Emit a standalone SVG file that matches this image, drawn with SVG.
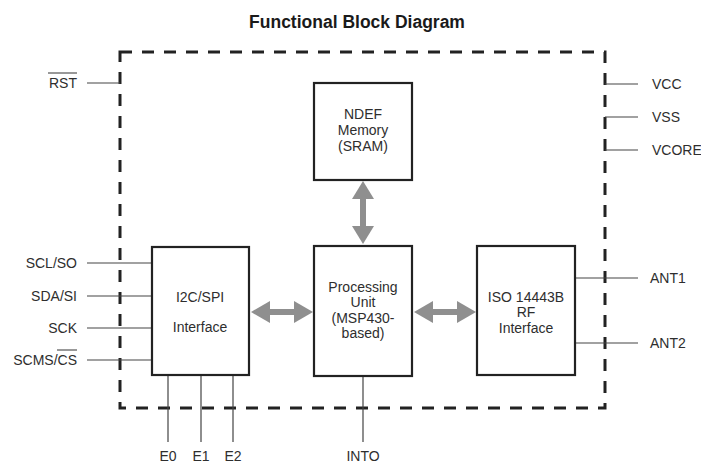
<svg xmlns="http://www.w3.org/2000/svg" width="701" height="464" viewBox="0 0 701 464">
  <style>
    .t { font-family: "Liberation Sans", Arial, sans-serif; font-size: 14px; fill: #2e2e2e; }
    .title { font-family: "Liberation Sans", Arial, sans-serif; font-size: 17.5px; font-weight: bold; fill: #1a1a1a; }
    .box { fill: #fff; stroke: #222; stroke-width: 2.2; }
    .pin { stroke: #444; stroke-width: 1.2; fill: none; }
    .border { fill: none; stroke: #222; stroke-width: 3; stroke-dasharray: 12 10; }
    .shaft { stroke: #8f8f8f; stroke-width: 6; fill: none; }
    .head { fill: #8f8f8f; }
    .bar { stroke: #333; stroke-width: 1; }
  </style>
  <rect width="701" height="464" fill="#fff"/>
  <text class="title" x="357" y="28" text-anchor="middle">Functional Block Diagram</text>

  <!-- chip outline -->
  <rect class="border" x="120" y="52" width="485" height="356"/>

  <g id="connectors">
    <!-- pins -->
    <path class="pin" d="M87 83H120"/>
    <path class="pin" d="M605 84H638M605 117H638M605 150H638"/>
    <path class="pin" d="M87 263H152M87 296H152M87 328H152M87 360H152"/>
    <path class="pin" d="M575 278H638M575 343H638"/>
    <path class="pin" d="M168 375V442M201 375V442M233 375V442"/>
    <path class="pin" d="M363 376V442"/>
    <!-- internal buses -->
    <path class="shaft" d="M363 196V228"/>
    <polygon class="head" points="363,181 352,199 374,199"/>
    <polygon class="head" points="363,244 352,226 374,226"/>
    <path class="shaft" d="M268 312H296"/>
    <polygon class="head" points="251,312 270,301 270,323"/>
    <polygon class="head" points="313,312 294,301 294,323"/>
    <path class="shaft" d="M431 312H459"/>
    <polygon class="head" points="414,312 433,301 433,323"/>
    <polygon class="head" points="476,312 457,301 457,323"/>
  </g>

  <g id="ndef">
    <rect class="box" x="314" y="83" width="98" height="97"/>
    <text class="t" x="363" y="119" text-anchor="middle">NDEF</text>
    <text class="t" x="363" y="135" text-anchor="middle">Memory</text>
    <text class="t" x="363" y="151" text-anchor="middle">(SRAM)</text>
  </g>
  <g id="processing">
    <rect class="box" x="314" y="246" width="98" height="130"/>
    <text class="t" x="363" y="292" text-anchor="middle">Processing</text>
    <text class="t" x="363" y="307" text-anchor="middle">Unit</text>
    <text class="t" x="363" y="323" text-anchor="middle">(MSP430-</text>
    <text class="t" x="363" y="338" text-anchor="middle">based)</text>
  </g>
  <g id="i2cspi">
    <rect class="box" x="152" y="247" width="97" height="128"/>
    <text class="t" x="200" y="302" text-anchor="middle">I2C/SPI</text>
    <text class="t" x="200" y="332" text-anchor="middle">Interface</text>
  </g>
  <g id="rf">
    <rect class="box" x="477" y="246" width="98" height="129"/>
    <text class="t" x="526" y="302" text-anchor="middle">ISO 14443B</text>
    <text class="t" x="526" y="317" text-anchor="middle">RF</text>
    <text class="t" x="526" y="333" text-anchor="middle">Interface</text>
  </g>

  <g id="pin-labels">
    <text class="t" x="77" y="88" text-anchor="end">RST</text>
    <path class="bar" d="M48 73H77"/>
    <text class="t" x="652" y="89">VCC</text>
    <text class="t" x="652" y="122">VSS</text>
    <text class="t" x="652" y="155">VCORE</text>
    <text class="t" x="77" y="268" text-anchor="end">SCL/SO</text>
    <text class="t" x="77" y="301" text-anchor="end">SDA/SI</text>
    <text class="t" x="77" y="333" text-anchor="end">SCK</text>
    <text class="t" x="77" y="365" text-anchor="end">SCMS/CS</text>
    <path class="bar" d="M57 350H77"/>
    <text class="t" x="650" y="283">ANT1</text>
    <text class="t" x="650" y="348">ANT2</text>
    <text class="t" x="168" y="461" text-anchor="middle">E0</text>
    <text class="t" x="201" y="461" text-anchor="middle">E1</text>
    <text class="t" x="233" y="461" text-anchor="middle">E2</text>
    <text class="t" x="363" y="461" text-anchor="middle">INTO</text>
  </g>
</svg>
